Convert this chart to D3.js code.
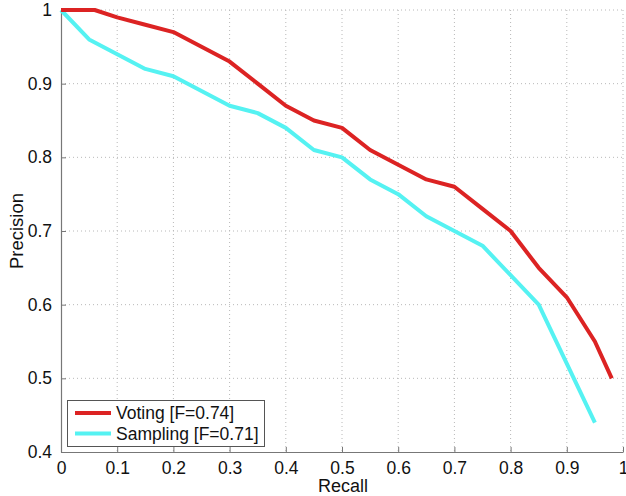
<!DOCTYPE html>
<html><head><meta charset="utf-8">
<script src="https://cdn.jsdelivr.net/npm/d3@7"></script>
<style>body{margin:0;background:#fff}svg{display:block}text{font-family:"Liberation Sans",Arial,sans-serif}</style>
</head><body>
<svg id="c" width="626" height="496"></svg>
<script>
const votingRecall =    [0, 0.06, 0.1, 0.15, 0.2, 0.25, 0.3, 0.35, 0.4, 0.45, 0.5, 0.55, 0.6, 0.65, 0.7, 0.75, 0.8, 0.85, 0.9, 0.95, 0.98];
const votingPrecision = [1, 1.0, 0.99, 0.98, 0.97, 0.95, 0.93, 0.90, 0.87, 0.85, 0.84, 0.81, 0.79, 0.77, 0.76, 0.73, 0.70, 0.65, 0.61, 0.55, 0.50];
const samplingRecall =    [0, 0.05, 0.1, 0.15, 0.2, 0.25, 0.3, 0.35, 0.4, 0.45, 0.5, 0.55, 0.6, 0.65, 0.7, 0.75, 0.8, 0.85, 0.9, 0.95];
const samplingPrecision = [1, 0.96, 0.94, 0.92, 0.91, 0.89, 0.87, 0.86, 0.84, 0.81, 0.80, 0.77, 0.75, 0.72, 0.70, 0.68, 0.64, 0.60, 0.52, 0.44];
const xTicks = [0, 0.1, 0.2, 0.3, 0.4, 0.5, 0.6, 0.7, 0.8, 0.9, 1];
const yTicks = [0.4, 0.5, 0.6, 0.7, 0.8, 0.9, 1];
const seriesNames = ["Voting [F=0.74]", "Sampling [F=0.71]"];
const seriesColors = ["#dc2323", "#55f2f2"];

const svg = d3.select("#c");
const L = 61, R = 623, T = 10, B = 452;
const x = d3.scaleLinear().domain([0, 1]).range([L, R]);
const y = d3.scaleLinear().domain([0.4, 1]).range([B, T]);
const fmt = d => d === 0 || d === 1 ? String(d) : d3.format(".1f")(d);

// grid
const g = svg.append("g");
g.selectAll("line.vx").data(xTicks.slice(1)).join("line")
  .attr("x1", d => x(d)).attr("x2", d => x(d)).attr("y1", T).attr("y2", B)
  .attr("stroke", "#b8b8b8").attr("stroke-width", 1).attr("stroke-dasharray", "1,3");
g.selectAll("line.hy").data(yTicks.slice(1)).join("line")
  .attr("y1", d => y(d)).attr("y2", d => y(d)).attr("x1", L).attr("x2", R)
  .attr("stroke", "#b8b8b8").attr("stroke-width", 1).attr("stroke-dasharray", "1,3");

// axes
const xAxis = d3.axisBottom(x).tickValues(xTicks).tickFormat(fmt).tickSizeInner(-5).tickSizeOuter(0).tickPadding(10);
const yAxis = d3.axisLeft(y).tickValues(yTicks).tickFormat(fmt).tickSizeInner(-5).tickSizeOuter(0).tickPadding(9);
const gx = svg.append("g").attr("transform", `translate(0,${B})`).call(xAxis);
const gy = svg.append("g").attr("transform", `translate(${L},0)`).call(yAxis);
[gx, gy].forEach(a => {
  a.select(".domain").attr("stroke", "#777").attr("stroke-width", 1.2);
  a.selectAll(".tick line").attr("stroke", "#777");
  a.selectAll(".tick text").attr("font-size", 17.5).attr("fill", "#111").attr("font-family", "Liberation Sans, Arial, sans-serif");
});

// lines
const line = d3.line().x(d => x(d[0])).y(d => y(d[1]));
const sets = [
  d3.zip(votingRecall, votingPrecision),
  d3.zip(samplingRecall, samplingPrecision)
];
[1, 0].forEach(i => {
  svg.append("path").datum(sets[i]).attr("d", line)
    .attr("fill", "none").attr("stroke", seriesColors[i]).attr("stroke-width", 4)
    .attr("stroke-linejoin", "round");
});

// axis labels
svg.append("text").attr("x", 343).attr("y", 492).attr("text-anchor", "middle")
  .attr("font-size", 18).attr("fill", "#111").text("Recall");
svg.append("text").attr("transform", `translate(23,${(T + B) / 2}) rotate(-90)`)
  .attr("text-anchor", "middle").attr("font-size", 18.5).attr("fill", "#111").text("Precision");

// legend
const lg = svg.append("g");
lg.append("rect").attr("x", 67.5).attr("y", 400.5).attr("width", 197).attr("height", 46)
  .attr("fill", "#fff").attr("stroke", "#555").attr("stroke-width", 1);
seriesNames.forEach((n, i) => {
  const yy = 413 + i * 20.5;
  lg.append("line").attr("x1", 75).attr("x2", 111).attr("y1", yy).attr("y2", yy)
    .attr("stroke", seriesColors[i]).attr("stroke-width", 4);
  lg.append("text").attr("x", 116).attr("y", yy + 6.3).attr("font-size", 17.5).attr("fill", "#111").text(n);
});
</script>
</body></html>
